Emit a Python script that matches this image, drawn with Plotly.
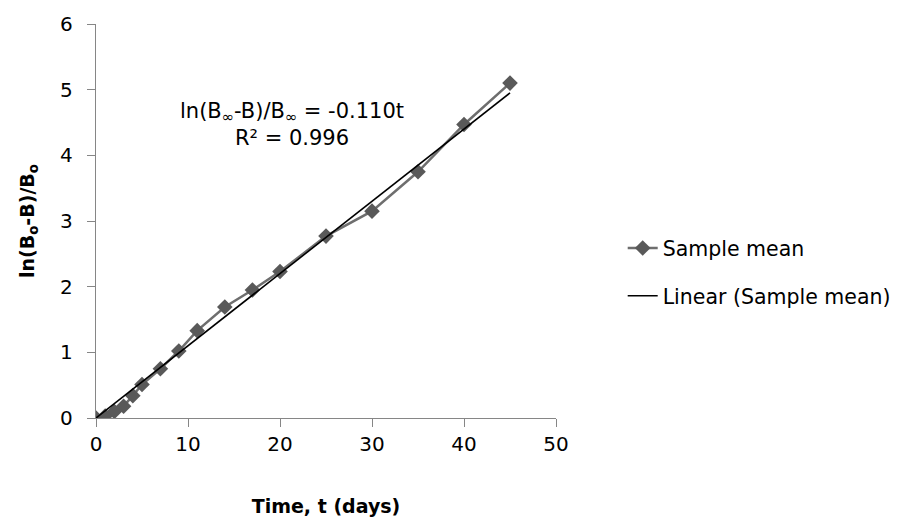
import plotly.graph_objects as go

time_days = [0, 1, 2, 3, 4, 5, 7, 9, 11, 14, 17, 20, 25, 30, 35, 40, 45]
sample_mean = [0.0, 0.03, 0.1, 0.18, 0.34, 0.51, 0.75, 1.02, 1.33, 1.69, 1.95, 2.23, 2.77, 3.15, 3.75, 4.47, 5.1]
slope = 0.110
trend_x = [0, 45]
trend_y = [slope * v for v in trend_x]

FONT = "DejaVu Sans"

fig = go.Figure()
fig.add_trace(go.Scatter(
    x=time_days, y=sample_mean, mode="lines+markers", name="Sample mean",
    legendgroup="a",
    line=dict(color="#6e6e6e", width=2.5),
    marker=dict(symbol="diamond", size=12, color="#595959"),
))
fig.add_trace(go.Scatter(
    x=trend_x, y=trend_y, mode="lines", name="Linear (Sample mean)",
    legendgroup="b",
    line=dict(color="#000000", width=1.6),
))

fig.add_annotation(
    x=21.3, y=4.47, xref="x", yref="y", showarrow=False,
    text="ln(B<sub>∞</sub>-B)/B<sub>∞</sub> = -0.110t<br>R² = 0.996",
    font=dict(family=FONT, size=21, color="#000000"), align="center",
)

fig.update_layout(
    width=908, height=531,
    margin=dict(l=96, r=348, t=15, b=113),
    paper_bgcolor="white", plot_bgcolor="white",
    font=dict(family=FONT, size=20, color="#000000"),
    showlegend=True,
    legend=dict(x=1.145, y=0.37, xanchor="left", yanchor="middle",
                font=dict(family=FONT, size=20.5), tracegroupgap=18,
                traceorder="grouped", bgcolor="rgba(0,0,0,0)"),
    xaxis=dict(
        range=[0, 50], tick0=0, dtick=10, showgrid=False, zeroline=False,
        showline=True, linecolor="#868686", linewidth=1.3,
        ticks="outside", ticklen=8, tickcolor="#868686", tickwidth=1.3,
        tickfont=dict(family=FONT, size=20),
        title=dict(text="<b>Time, t (days)</b>", font=dict(family=FONT, size=19), standoff=44),
    ),
    yaxis=dict(
        range=[0, 6], tick0=0, dtick=1, showgrid=False, zeroline=False,
        showline=True, linecolor="#868686", linewidth=1.3,
        ticks="outside", ticklen=8, tickcolor="#868686", tickwidth=1.3,
        ticklabelstandoff=10,
        tickfont=dict(family=FONT, size=20),
        title=dict(text="<b>ln(B<sub>o</sub>-B)/B<sub>o</sub></b>", font=dict(family=FONT, size=19), standoff=20),
    ),
)

fig.write_html("out.html")
